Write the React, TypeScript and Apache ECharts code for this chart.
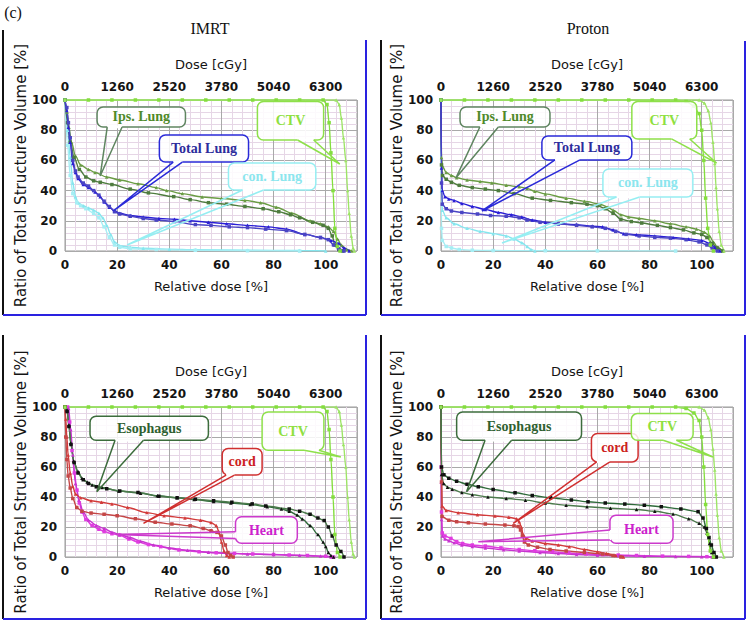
import React, { useEffect, useRef } from 'react';
import * as echarts from 'echarts';

type Pt = [number, number];

// ---------- data (relative dose %, volume %) ----------
// IMRT CTV
const ctvImrtA: Pt[] = [[0,100],[9,100],[18,100],[27,100],[36,100],[45,100],[54,100],[63,100],[72,100],[81,100],[90,100],[99,100],[100.5,97],[101.3,85],[102,65],[102.8,40],[103.5,15],[104.5,3],[105.5,0]];
const ctvImrtB: Pt[] = [[0,100],[104,100],[105.2,97],[106,88],[106.8,75],[107.7,60],[108.4,40],[109,25],[109.8,10],[110.5,2],[111,0]];
// Proton CTV
const ctvProtonA: Pt[] = [[0,100],[9,100],[18,100],[27,100],[36,100],[45,100],[54,100],[63,100],[72,100],[81,100],[90,100],[94,99],[97,96],[99,91],[100,80],[100.8,60],[101.5,35],[102.3,15],[103.3,4],[104.5,0]];
const ctvProtonB: Pt[] = [[0,100],[99,100],[101,98],[102.5,93],[103.5,85],[104.3,72],[105,58],[105.5,42],[106,28],[106.7,13],[107.5,4],[108.5,0]];

// IMRT lungs
const ipsLungImrtA: Pt[] = [[0,100],[0.8,92],[1.5,82],[2.5,72],[4,63],[6,57],[9,54],[11.5,52],[16,49],[21,47],[28,44.5],[35,42],[39,40],[45,38],[52.6,35.8],[60,34.8],[69,33.5],[75,32],[81,29],[87,25],[94,20],[98,18],[101,16],[103,13],[104.5,8],[106,4],[108,1],[110,0]];
const ipsLungImrtB: Pt[] = [[0,100],[1,85],[2,72],[3.5,62],[5.5,54],[8,49],[11,46.5],[13.5,45.5],[18,44],[25,41],[32,38.5],[41.7,36],[48,34],[55,32],[62,31],[69,29.5],[76,28],[82,26],[86.5,24],[90,22],[95,19],[99,17],[101,15],[102.5,10],[103.5,4],[105,1],[106.5,0]];
const totalLungImrtA: Pt[] = [[0,100],[0.7,93],[1.3,82],[2,72],[3,58],[4,52],[5,48],[7,44],[9,42],[11.5,39],[13.5,36],[15,32.5],[17,29],[19,26.5],[21,25],[25,23.5],[30,22.5],[36,21.5],[42,21],[48,20],[55,19],[62,18],[70,17],[78,16],[85,14.5],[92,11],[98,9],[102,7],[105,5],[107,2],[109,0]];
const totalLungImrtB: Pt[] = [[0,100],[0.7,95],[1.3,85],[2,75],[3,60],[4,53],[5,49],[7,45],[9,43],[11,40],[13,37],[15,33],[17,29.5],[19,26],[21,24.5],[25,23],[30,21.5],[35,20.5],[42,19.5],[50,17.5],[56,17],[63,16],[70,15.5],[77,14.5],[85,13.5],[92,11],[98,9],[101,7.5],[103,4],[105,1.5],[107,0]];
const conLungImrtA: Pt[] = [[0,100],[1,80],[2,62],[3,45],[4,36],[5,32],[7,30],[9,28.5],[11,27],[13,25],[14.5,22],[16,17],[17.5,11],[19,6],[21,3.5],[25,2.5],[30,1.8],[40,1.2],[50,0.8],[70,0.5],[90,0.3],[100,0]];
const conLungImrtB: Pt[] = [[0,100],[1,70],[2,50],[3,38],[4.5,32],[6,30],[8,28],[11,25],[13,22],[15,16],[17,9],[19,4],[21,2.5],[25,1.5],[35,1],[50,0.5],[70,0.2],[90,0]];

// Proton lungs
const ipsLungProtonA: Pt[] = [[0,100],[0.2,62],[0.6,56],[2,52],[4,50],[6,48.5],[10,47],[15,46],[19.5,45],[25,43.5],[30,42.5],[33,41.5],[36,39.5],[40,37.8],[48,35],[55,33],[61,31],[64,29],[66,27],[69,24],[72,22.5],[76,21.5],[82,20],[88,18],[94,16],[98,14.5],[101,12.5],[103,10],[104.5,6],[106,2.5],[108,0]];
const ipsLungProtonB: Pt[] = [[0,100],[0.2,57],[0.6,50],[2,47.5],[4,45.5],[7,43.5],[12,42],[17,41],[22,40],[28,38],[35,35],[42,33.5],[50,32],[56,31],[60,30],[63,28],[66,25],[69,21],[73,19.5],[77,18.5],[83,17],[88,15.5],[93,14],[97,12],[100,11],[102,9],[104,5],[106,2],[108,0]];
const totalLungProtonA: Pt[] = [[0,100],[0.2,55],[0.5,40],[1.5,36],[3,34.5],[5,33.5],[8,31.5],[12,29.5],[17,27.5],[22,25.5],[27,24],[31,22.5],[35,20.5],[40,19],[45,18],[52,17.5],[58,16.5],[62,16],[66,14],[70,11.5],[75,10.8],[82,10],[89,9],[95,8],[100,7],[103,5],[105,2.5],[107,0]];
const totalLungProtonB: Pt[] = [[0,100],[0.2,45],[0.5,31],[2,28],[4,26.5],[8,25.5],[14,24.5],[19,23.5],[25,23],[30,22],[33,20.5],[38,19],[45,18],[52,17],[58,16],[63,15],[67,13],[71,11],[76,10],[82,9],[88,8.5],[94,7.5],[99,6],[102,4],[104,2],[106,0]];
const conLungProtonA: Pt[] = [[0,100],[0.2,40],[0.5,27],[2,22],[5,18],[10,15],[15,13],[20,11.5],[25,10],[28,8],[31,5.5],[33,3],[34.5,1],[36,0]];
const conLungProtonB: Pt[] = [[0,100],[0.2,15],[0.5,7],[2,3],[4,2],[7,1],[12,0.5],[20,0.3],[40,0.2],[60,0.1],[90,0]];

// IMRT organs
const esophagusImrtA: Pt[] = [[0,100],[0.8,98],[1.5,88],[2.2,76],[3.3,64],[5,57],[6.5,52.5],[8.5,50],[10.4,48],[14.2,46.3],[20.6,44],[29,42.5],[35.4,40.8],[43,39.5],[49.5,38.3],[57,37],[63.6,36],[71,35],[77.6,33.5],[83,32],[86,30.5],[89,28],[91,25.4],[94,21],[97,15],[99,10],[100,7],[101,3],[102,1],[103,0]];
const esophagusImrtB: Pt[] = [[0,100],[0.8,97],[1.5,87],[2.3,75],[3.5,63],[5,56],[7,51.5],[9,49],[12,46.8],[16,45.5],[21,44],[28,43],[36,40.5],[43,39.5],[50,38.5],[57,37.5],[64,36.5],[71.8,35.4],[77,34],[86,32],[90,30.5],[94,28.5],[97,26],[99.4,24.3],[101,20],[102.5,14],[104,8],[105.8,3.7],[107,0]];
const cordImrtA: Pt[] = [[0,100],[0.3,92],[0.7,80],[1.2,68],[2,56],[3,47],[4,42],[6,39.5],[10,37.5],[14,36.5],[18,35.4],[24,33],[31.4,29.6],[38,27.5],[46,26],[52,24.5],[56,23],[58,21],[59,17],[60,10],[61,4],[62,1],[63,0]];
const cordImrtB: Pt[] = [[0,100],[0.3,80],[0.7,65],[1.2,54],[2,46],[3,39],[4.5,33],[6.5,30.5],[10,29.3],[15,28.5],[20,27.5],[27,25.5],[34.6,23.2],[41,22],[48,20.8],[53,19],[56,17.5],[58.3,16.4],[60,14],[61.5,8],[62.5,3],[63.5,1],[64.5,0]];
const heartImrtA: Pt[] = [[0,100],[1,100],[1.8,90],[2.7,71],[3.6,56],[4.6,44.6],[5.5,36],[6.5,30],[8,25],[10.4,21],[13,18.5],[15,17],[18,15.5],[21,14.6],[24.5,12],[28,10],[32,8.3],[36.7,6.9],[43.7,4.7],[51.4,3.5],[58,2.8],[65,2.4],[72,2],[80,1.7],[86,1.3],[93,1],[100,0.5],[103,0]];
const heartImrtB: Pt[] = [[0,100],[1.4,99],[2.2,85],[3,68],[4,49],[5.3,38],[7,30],[9,24.6],[12,21],[15,19],[18,16.5],[21,15],[25,13],[29,10.5],[34,8],[40,6],[47,4.5],[55,3.2],[62,2.5],[70,2],[80,1.6],[90,1.1],[98,0.6],[102,0]];

// Proton organs
const esophagusProtonA: Pt[] = [[0,100],[0.2,60],[1.1,54.8],[3,52.5],[6,50.5],[10,48.5],[14.3,46.8],[20,45],[28.4,42.8],[35,41],[42,39.5],[50,38],[56.4,36.8],[63,36],[70.5,35.3],[78,34.5],[84.5,33.5],[92,32],[98.6,30.2],[100.5,26],[101.8,19],[102.8,13],[103.7,8],[104.7,3],[105.6,0]];
const esophagusProtonB: Pt[] = [[0,100],[0.2,55],[1,49],[2.5,46.5],[4.3,45.2],[8,43],[12,41.5],[18,40],[25,39],[32.4,37.9],[40,36],[48,34.5],[56,33.5],[65,32.5],[75,31.7],[82,30.5],[89,28.6],[95,25.5],[99,22.5],[101,20],[102,16],[103,9],[103.8,3],[104.5,0]];
const cordProtonA: Pt[] = [[0,100],[0.2,60],[0.4,34],[2,31],[6.6,29.5],[14,28.2],[20.7,27.3],[26,26.5],[29,25.5],[30,23.5],[30.8,20],[31.5,15],[32.5,12.5],[35,10.6],[40,9],[45,8],[49.2,6.9],[55,5],[60,3.5],[63.5,2.4],[67,1],[70,0]];
const cordProtonB: Pt[] = [[0,100],[0.2,50],[0.4,27],[3,24.5],[6,23.5],[10.5,22.8],[17,22],[24.5,21.3],[28,20.8],[29.6,20.3],[30.5,18],[31.2,14],[32,10],[33.5,8],[37,6.5],[41.8,5],[48,4],[55,3],[62,2],[66,1],[69,0]];
const heartProtonA: Pt[] = [[0,100],[0.1,60],[0.2,30],[0.5,16],[1.5,14],[3.8,12.4],[6,10.2],[8.3,9],[12,8],[17,7.3],[23,6.1],[30,5],[36,4.2],[42.8,3.5],[49,2.7],[55.6,2],[62,1.6],[68,1.3],[75,1],[85,0.6],[95,0.4],[102,0.2],[105,0]];
const heartProtonB: Pt[] = [[0,100],[0.1,50],[0.2,25],[0.5,14],[1.5,12],[3,10.8],[5,9.5],[8,8],[12,7],[17,6],[24,4.8],[30,4],[38,3],[45,2.3],[52,1.7],[60,1.2],[68,0.8],[78,0.5],[90,0.3],[100,0.1],[104,0]];

// axes
const relDoseMax = 112;
const relDoseStep = 20;
const relDoseLabelMax = 100;
const prescribedDose = 6300; // cGy at 100 %
const doseStep = 1260;
const volumeStep = 20;

const panelTitles = ['IMRT', 'Proton'];

// ---------- styling / layout ----------
const FONT = '"DejaVu Sans", Verdana, sans-serif';
const SERIF = '"Liberation Serif", "Times New Roman", serif';

const C = {
  ctvA: '#84de3e', ctvB: '#9de466',
  ipsA: '#6a9c44', ipsB: '#4e7c3e',
  totA: '#2a1ed6', totB: '#4a44c4',
  conA: '#86e6ee', conB: '#a6eef4',
  esoA: '#2f6a3a', esoB: '#4c7a4c',
  cordA: '#d23a3a', cordB: '#c44646',
  heartA: '#e03ce0', heartB: '#c834d0',
};

const GRIDS = [
  { left: 65, top: 100, width: 292, height: 151 },
  { left: 441, top: 100, width: 292, height: 151 },
  { left: 65, top: 407, width: 292, height: 150 },
  { left: 441, top: 407, width: 292, height: 150 },
];

type S = { data: Pt[]; color: string; mark?: string; symbol: string };
const PANEL_SERIES: S[][] = [
  [
    { data: conLungImrtA, color: C.conA, symbol: 'triangle' },
    { data: conLungImrtB, color: C.conB, symbol: 'rect' },
    { data: ipsLungImrtA, color: C.ipsA, symbol: 'triangle' },
    { data: ipsLungImrtB, color: C.ipsB, symbol: 'rect' },
    { data: totalLungImrtA, color: C.totA, symbol: 'triangle' },
    { data: totalLungImrtB, color: C.totB, symbol: 'rect' },
    { data: ctvImrtA, color: C.ctvA, symbol: 'rect' },
    { data: ctvImrtB, color: C.ctvB, symbol: 'triangle' },
  ],
  [
    { data: conLungProtonA, color: C.conA, symbol: 'triangle' },
    { data: conLungProtonB, color: C.conB, symbol: 'rect' },
    { data: ipsLungProtonA, color: C.ipsA, symbol: 'triangle' },
    { data: ipsLungProtonB, color: C.ipsB, symbol: 'rect' },
    { data: totalLungProtonA, color: C.totA, symbol: 'triangle' },
    { data: totalLungProtonB, color: C.totB, symbol: 'rect' },
    { data: ctvProtonA, color: C.ctvA, symbol: 'rect' },
    { data: ctvProtonB, color: C.ctvB, symbol: 'triangle' },
  ],
  [
    { data: heartImrtA, color: C.heartA, symbol: 'rect' },
    { data: heartImrtB, color: C.heartB, symbol: 'triangle' },
    { data: cordImrtA, color: C.cordA, symbol: 'triangle' },
    { data: cordImrtB, color: C.cordB, symbol: 'rect' },
    { data: esophagusImrtA, color: C.esoA, mark: '#111', symbol: 'triangle' },
    { data: esophagusImrtB, color: C.esoB, mark: '#111', symbol: 'rect' },
    { data: ctvImrtA, color: C.ctvA, symbol: 'rect' },
    { data: ctvImrtB, color: C.ctvB, symbol: 'triangle' },
  ],
  [
    { data: heartProtonA, color: C.heartA, symbol: 'rect' },
    { data: heartProtonB, color: C.heartB, symbol: 'triangle' },
    { data: cordProtonA, color: C.cordA, symbol: 'triangle' },
    { data: cordProtonB, color: C.cordB, symbol: 'rect' },
    { data: esophagusProtonA, color: C.esoA, mark: '#111', symbol: 'rect' },
    { data: esophagusProtonB, color: C.esoB, mark: '#111', symbol: 'triangle' },
    { data: ctvProtonA, color: C.ctvA, symbol: 'rect' },
    { data: ctvProtonB, color: C.ctvB, symbol: 'triangle' },
  ],
];

// callouts in data coordinates: box [d1, v1, d2, v2], base points, tip
type Callout = { panel: number; text: string; box: number[]; base: Pt[]; tip: Pt; stroke: string; fill: string };
const IPS = { stroke: '#5f8560', fill: '#4f8a2a' };
const TOT = { stroke: '#2a2ad8', fill: '#2c2c9c' };
const CTVc = { stroke: '#8ee04a', fill: '#8ee040' };
const CON = { stroke: '#96eef2', fill: '#8ce6ee' };
const ESO = { stroke: '#3c6c3c', fill: '#2e6030' };
const CORD = { stroke: '#d03030', fill: '#cc2222' };
const HEART = { stroke: '#cc3acc', fill: '#cc22cc' };
const CALLOUTS: Callout[] = [
  { panel: 0, text: 'Ips. Lung', box: [12.3, 95.4, 46.2, 82.1], base: [[16.2, 82.1], [21.9, 82.1]], tip: [13.5, 49.7], ...IPS },
  { panel: 0, text: 'Total Lung', box: [36.2, 76.8, 70.4, 58.9], base: [[41.5, 58.9], [45, 58.9]], tip: [18.5, 26.5], ...TOT },
  { panel: 0, text: 'CTV', box: [73.8, 99, 99.2, 73.5], base: [[89.2, 73.5], [95.4, 73.5]], tip: [105.4, 57.6], ...CTVc },
  { panel: 0, text: 'con. Lung', box: [62.7, 58.3, 96.2, 40.4], base: [[68.1, 40.4], [76.2, 40.4]], tip: [23.8, 4], ...CON },
  { panel: 1, text: 'Ips. Lung', box: [7.3, 95.4, 41.8, 82.1], base: [[14.9, 82.1], [22, 82.1]], tip: [5.7, 48.3], ...IPS },
  { panel: 1, text: 'Total Lung', box: [38.7, 76.2, 73.2, 60.3], base: [[43.7, 60.3], [53.3, 60.3]], tip: [15.7, 26.5], ...TOT },
  { panel: 1, text: 'CTV', box: [73.2, 99, 98.1, 74.2], base: [[88.4, 74.2], [95.4, 74.2]], tip: [105.7, 58.3], ...CTVc },
  { panel: 1, text: 'con. Lung', box: [62.1, 54.3, 96.6, 35.8], base: [[67.3, 35.8], [76.2, 35.8]], tip: [23.4, 5.3], ...CON },
  { panel: 2, text: 'Esophagus', box: [9.6, 93.8, 55, 77.8], base: [[19.2, 77.8], [30.1, 77.8]], tip: [12.2, 43.5], ...ESO },
  { panel: 2, text: 'cord', box: [60.3, 72.3, 75.6, 54.6], base: [[61.8, 54.6], [65, 54.6]], tip: [30.1, 22.4], ...CORD },
  { panel: 2, text: 'Heart', box: [65.4, 26.8, 89.1, 9.1], base: [[65.4, 16.8], [65.4, 12.4]], tip: [19.5, 15], ...HEART },
  { panel: 2, text: 'CTV', box: [75.6, 96.7, 99.3, 71.2], base: [[91.7, 71.2], [97.4, 71.2]], tip: [105.8, 66.7], ...CTVc },
  { panel: 3, text: 'Esophagus', box: [6, 96.7, 53.9, 77.8], base: [[16.9, 77.8], [27.1, 77.8]], tip: [9.8, 43.5], ...ESO },
  { panel: 3, text: 'cord', box: [57.7, 82.3, 75.6, 63.4], base: [[59.7, 63.4], [64.8, 63.4]], tip: [27.7, 22.4], ...CORD },
  { panel: 3, text: 'Heart', box: [64.8, 27.9, 89, 9.1], base: [[64.8, 18], [64.8, 11.3]], tip: [14.3, 10.2], ...HEART },
  { panel: 3, text: 'CTV', box: [73, 95.6, 96.7, 77.8], base: [[85.2, 77.8], [90.3, 77.8]], tip: [104.3, 66.7], ...CTVc },
];

const BLUE = '#2a22e0';
const FRAMES = [
  // top-left
  { x1: 3, y1: 30, x2: 3, y2: 315, c: '#111' },
  { x1: 3, y1: 315, x2: 366, y2: 315, c: BLUE },
  { x1: 366, y1: 40, x2: 366, y2: 315, c: BLUE },
  // top-right
  { x1: 381, y1: 40, x2: 381, y2: 315, c: '#111' },
  { x1: 381, y1: 315, x2: 745, y2: 315, c: BLUE },
  { x1: 745, y1: 41, x2: 745, y2: 315, c: BLUE },
  // bottom-left
  { x1: 3, y1: 335, x2: 3, y2: 619, c: '#111' },
  { x1: 3, y1: 619, x2: 366, y2: 619, c: BLUE },
  { x1: 366, y1: 335, x2: 366, y2: 619, c: BLUE },
  // bottom-right
  { x1: 381, y1: 335, x2: 381, y2: 619, c: '#111' },
  { x1: 381, y1: 619, x2: 745, y2: 619, c: BLUE },
  { x1: 745, y1: 335, x2: 745, y2: 619, c: BLUE },
];

const labelStyle = { fontFamily: FONT, fontWeight: 'bold' as const, fontSize: 12, color: '#141414' };
const nameStyle = { fontFamily: FONT, fontSize: 13, color: '#141414' };

function buildOption() {
  const xAxis: any[] = [];
  const yAxis: any[] = [];
  const series: any[] = [];
  GRIDS.forEach((_, i) => {
    xAxis.push({
      type: 'value', gridIndex: i, position: 'bottom', min: 0, max: relDoseMax, interval: relDoseStep,
      axisLine: { show: false }, axisTick: { show: false },
      axisLabel: { ...labelStyle, margin: 8, formatter: (v: number) => (v % relDoseStep === 0 && v <= relDoseLabelMax ? String(v) : '') },
      splitLine: { show: true, lineStyle: { color: '#a9a9a9', width: 1 } },
      minorTick: { show: false, splitNumber: 5 },
      minorSplitLine: { show: true, lineStyle: { color: '#e6d6e6', width: 1 } },
      name: 'Relative dose [%]', nameLocation: 'middle', nameGap: 29, nameTextStyle: nameStyle,
    });
    xAxis.push({
      type: 'value', gridIndex: i, position: 'top', min: 0, max: relDoseMax * prescribedDose / 100, interval: doseStep,
      axisLine: { show: false }, axisTick: { show: false }, splitLine: { show: false },
      axisLabel: { ...labelStyle, margin: 7, formatter: (v: number) => (v % doseStep === 0 && v <= prescribedDose ? String(v) : '') },
      name: 'Dose [cGy]', nameLocation: 'middle', nameGap: 29, nameTextStyle: nameStyle,
    });
    yAxis.push({
      type: 'value', gridIndex: i, min: 0, max: 100, interval: volumeStep,
      axisLine: { show: false }, axisTick: { show: false },
      axisLabel: { ...labelStyle, margin: 8 },
      splitLine: { show: true, lineStyle: { color: '#a9a9a9', width: 1 } },
      minorTick: { show: false, splitNumber: 5 },
      minorSplitLine: { show: true, lineStyle: { color: '#e6d6e6', width: 1 } },
      name: 'Ratio of Total Structure Volume [%]', nameLocation: 'middle', nameGap: 37, nameRotate: 90,
      nameTextStyle: { ...nameStyle, fontSize: 15 },
    });
    PANEL_SERIES[i].forEach((s) => {
      series.push({
        type: 'line', xAxisIndex: i * 2, yAxisIndex: i, data: s.data,
        smooth: 0.3, smoothMonotone: 'x', symbol: s.symbol, symbolSize: 3.5, showSymbol: true,
        lineStyle: { color: s.color, width: 1.4 }, itemStyle: { color: s.mark || s.color },
        emphasis: { disabled: true }, silent: true,
      });
    });
  });
  return {
    animation: false,
    backgroundColor: '#ffffff',
    grid: GRIDS.map((g) => ({ ...g, show: true, borderColor: '#9a9a9a', borderWidth: 1, containLabel: false })),
    xAxis, yAxis, series,
  };
}

export default function App() {
  const ref = useRef<HTMLDivElement>(null);
  useEffect(() => {
    if (!ref.current) return;
    const chart = echarts.init(ref.current, undefined, { renderer: 'svg' });
    chart.setOption(buildOption() as any);

    const toPx = (panel: number, p: number[]): number[] => {
      const r = chart.convertToPixel({ xAxisIndex: panel * 2, yAxisIndex: panel } as any, p) as any;
      if (r && isFinite(r[0])) return r;
      const g = GRIDS[panel];
      return [g.left + (p[0] / relDoseMax) * g.width, g.top + (1 - p[1] / 100) * g.height];
    };

    const graphic: any[] = [];
    FRAMES.forEach((f) => graphic.push({ type: 'line', z: 50, shape: { x1: f.x1, y1: f.y1, x2: f.x2, y2: f.y2 }, style: { stroke: f.c, lineWidth: 2 } }));
    graphic.push({ type: 'text', z: 50, x: 13, y: 12, style: { text: '(c)', font: `16px ${SERIF}`, fill: '#111', align: 'center', verticalAlign: 'middle' } });
    graphic.push({ type: 'text', z: 50, x: 210, y: 28, style: { text: panelTitles[0], font: `16px ${SERIF}`, fill: '#111', align: 'center', verticalAlign: 'middle' } });
    graphic.push({ type: 'text', z: 50, x: 588, y: 28, style: { text: panelTitles[1], font: `16px ${SERIF}`, fill: '#111', align: 'center', verticalAlign: 'middle' } });

    CALLOUTS.forEach((c) => {
      const a = toPx(c.panel, [c.box[0], c.box[1]]);
      const b = toPx(c.panel, [c.box[2], c.box[3]]);
      const b1 = toPx(c.panel, c.base[0]);
      const b2 = toPx(c.panel, c.base[1]);
      const t = toPx(c.panel, c.tip);
      const x = Math.min(a[0], b[0]), y = Math.min(a[1], b[1]);
      const w = Math.abs(b[0] - a[0]), h = Math.abs(b[1] - a[1]);
      graphic.push({ type: 'rect', z: 60, shape: { x, y, width: w, height: h, r: 6 }, style: { fill: 'rgba(255,255,255,0.85)', stroke: c.stroke, lineWidth: 1.5 } });
      graphic.push({ type: 'line', z: 61, shape: { x1: b1[0], y1: b1[1], x2: b2[0], y2: b2[1] }, style: { stroke: '#ffffff', lineWidth: 2.5 } });
      graphic.push({ type: 'polyline', z: 62, shape: { points: [b1, t, b2] }, style: { stroke: c.stroke, lineWidth: 1.5, fill: 'none' } });
      graphic.push({ type: 'text', z: 63, x: x + w / 2, y: y + h / 2, style: { text: c.text, font: `bold 14px ${SERIF}`, fill: c.fill, align: 'center', verticalAlign: 'middle' } });
    });
    chart.setOption({ graphic });
    return () => chart.dispose();
  }, []);
  return <div ref={ref} style={{ position: 'absolute', left: 0, top: 0, width: 747, height: 622 }} />;
}
